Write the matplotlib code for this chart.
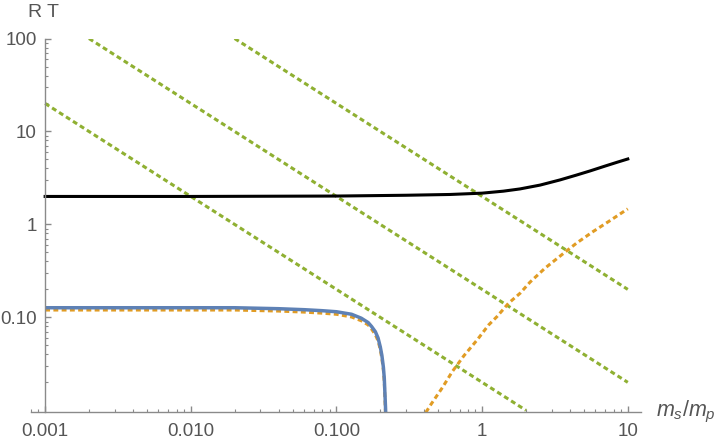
import matplotlib
matplotlib.use('Agg')
import matplotlib.pyplot as plt
from matplotlib.ticker import FixedLocator, FixedFormatter, LogLocator, NullFormatter

plt.rcParams['font.family'] = ['Liberation Sans', 'DejaVu Sans']
plt.rcParams['mathtext.fontset'] = 'custom'
plt.rcParams['mathtext.it'] = 'Liberation Sans:italic'
plt.rcParams['mathtext.rm'] = 'Liberation Sans'

# black curve
x_black = [0.001, 0.01, 0.1, 0.3, 0.6, 1.0, 1.4, 1.82, 2.5, 3.42, 4.4, 5.5, 7.0, 8.5, 10.0]
y_black = [2.0, 2.0, 2.02, 2.06, 2.1, 2.17, 2.28, 2.41, 2.65, 3.01, 3.38, 3.76, 4.25, 4.68, 5.06]

# blue solid curve
x_blue = [0.001, 0.02, 0.04, 0.06, 0.08, 0.1, 0.127, 0.148, 0.165, 0.174, 0.185, 0.193, 0.2, 0.205, 0.21, 0.213, 0.217, 0.218]
y_blue = [0.127, 0.127, 0.124, 0.121, 0.118, 0.115, 0.108, 0.098, 0.088, 0.080, 0.070, 0.060, 0.048, 0.039, 0.029, 0.022, 0.011, 0.009]

# orange dashed curve along the blue one
x_orange1 = [0.001, 0.02, 0.04, 0.06, 0.08, 0.1, 0.127, 0.148, 0.165, 0.174, 0.185, 0.193, 0.2, 0.205, 0.21, 0.213, 0.217]
y_orange1 = [0.12, 0.12, 0.117, 0.114, 0.111, 0.108, 0.101, 0.092, 0.083, 0.075, 0.065, 0.056, 0.045, 0.036, 0.027, 0.02, 0.0095]

# orange dashed rising curve
x_orange2 = [0.411, 0.444, 0.534, 0.624, 0.749, 0.925, 1.109, 1.265, 1.518, 1.824, 2.13, 2.70, 3.51, 4.44, 5.77, 7.49, 9.73, 10.0]
y_orange2 = [0.0095, 0.0115, 0.0176, 0.0261, 0.0386, 0.0573, 0.083, 0.102, 0.142, 0.182, 0.239, 0.338, 0.47, 0.628, 0.837, 1.09, 1.43, 1.47]

# green dashed straight lines (end points)
green_lines = [
    ([0.001, 2.0], [20.0, 0.01]),
    ([0.002, 10.0], [100.0, 0.02]),
    ([0.02, 10.0], [100.0, 0.2]),
]

xticks = [0.001, 0.01, 0.1, 1, 10]
xtick_labels = ['0.001', '0.010', '0.100', '1', '10']
yticks = [0.1, 1, 10, 100]
ytick_labels = ['0.10', '1', '10', '100']

blue = '#5E81B5'
orange = '#E19C24'
green = '#8FB032'
axis_gray = '#8a8a8a'
text_gray = '#555555'

fig = plt.figure(figsize=(7.2, 4.48), dpi=100)
ax = fig.add_axes([0.0431, 0.0804, 0.8468, 0.8336])
ax.set_xscale('log')
ax.set_yscale('log')

for xs, ys in green_lines:
    ax.plot(xs, ys, color=green, lw=2.2, dashes=(1.6, 1.1))
ax.plot(x_orange2, y_orange2, color=orange, lw=2.2, dashes=(1.6, 1.1))
ax.plot(x_orange1, y_orange1, color=orange, lw=2.2, dashes=(1.6, 1.1))
ax.plot(x_blue, y_blue, color=blue, lw=2.5, solid_capstyle='butt')
ax.plot(x_black, y_black, color='black', lw=2.2)

ax.set_xlim(0.0008, 12.27)
ax.set_ylim(0.0096, 100)

ax.spines['top'].set_visible(False)
ax.spines['right'].set_visible(False)
ax.spines['left'].set_position(('data', 0.001))
ax.spines['left'].set_bounds(0.0096, 100)
for s in ['left', 'bottom']:
    ax.spines[s].set_color(axis_gray)
    ax.spines[s].set_linewidth(1.0)

ax.xaxis.set_major_locator(FixedLocator(xticks))
ax.xaxis.set_major_formatter(FixedFormatter(xtick_labels))
ax.yaxis.set_major_locator(FixedLocator(yticks))
ax.yaxis.set_major_formatter(FixedFormatter(ytick_labels))
ax.xaxis.set_minor_locator(LogLocator(base=10, subs=range(2, 10)))
ax.yaxis.set_minor_locator(LogLocator(base=10, subs=range(2, 10)))
ax.xaxis.set_minor_formatter(NullFormatter())
ax.yaxis.set_minor_formatter(NullFormatter())

ax.tick_params(which='major', direction='in', length=4, width=1, color=axis_gray,
               labelsize=13.5, labelcolor=text_gray)
ax.tick_params(which='minor', direction='in', length=2, width=0.8, color=axis_gray)
ax.tick_params(axis='x', which='major', pad=8)
ax.tick_params(axis='y', which='major', pad=6)

fig.text(0.061, 0.973, 'R T', ha='center', va='center', fontsize=14, color=text_gray)
fig.text(0.911, 0.08, r'$m_s/m_p$', ha='left', va='center', fontsize=15.5, color=text_gray)

plt.savefig('out.png', dpi=100)
